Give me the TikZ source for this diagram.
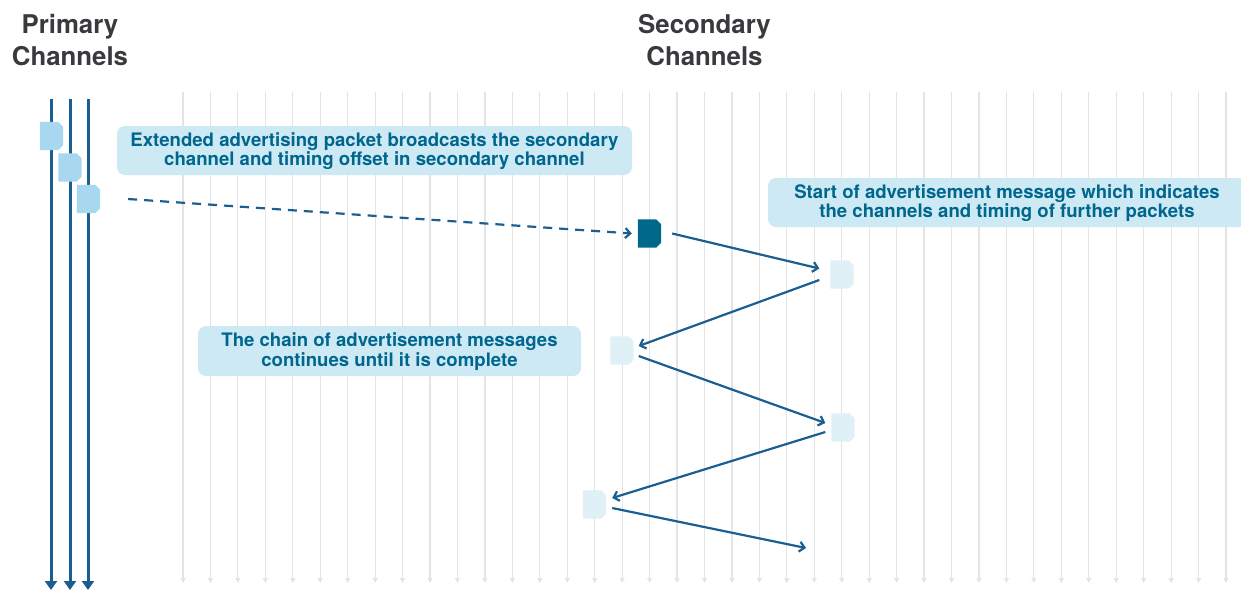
\documentclass[tikz,border=0pt]{standalone}
\usepackage{fontspec}
\setmainfont{TeX Gyre Heros}
\usetikzlibrary{arrows.meta}
\definecolor{gridgrey}{HTML}{E4E4E4}
\definecolor{linkblue}{HTML}{1B5E91}
\definecolor{textteal}{HTML}{00668E}
\definecolor{boxfill}{HTML}{CDEAF4}
\definecolor{pktprim}{HTML}{A8D8F0}
\definecolor{pktdark}{HTML}{006889}
\definecolor{pktfade}{HTML}{DFF0F6}
\definecolor{titlegrey}{HTML}{3A3A3E}
\tikzset{
  pktbox/.style={rectangle, minimum width=23pt, minimum height=28pt, inner sep=0pt, draw=none},
  note/.style={fill=boxfill, rounded corners=8pt, text=textteal, align=center,
    font=\fontsize{18.6}{19.8}\selectfont\bfseries, inner sep=0pt, text depth=3pt},
  title/.style={text=titlegrey, align=center, font=\fontsize{25.8}{32}\selectfont\bfseries},
  link/.style={draw=linkblue, line width=2.2pt, -{Straight Barb[length=5pt,width=10pt]}},
  gridline/.style={draw=gridgrey, line width=1.2pt, -{Triangle[width=5pt,length=5pt]}},
  primline/.style={draw=linkblue, line width=3pt, -{Triangle[width=12pt,length=9pt]}}
}
\newcommand{\packet}[3]{%
  \node[pktbox] (#1) at (#2) {};
  \fill[#3] (#1.north west) -- ([xshift=-5pt]#1.north east) -- ([yshift=-5pt]#1.north east)
    -- ([yshift=5pt]#1.south east) -- ([xshift=-5pt]#1.south east) -- (#1.south west) -- cycle;
}
\begin{document}
\begin{tikzpicture}[x=1pt,y=-1pt]
\useasboundingbox (0,0) rectangle (1241,590);
% grid of secondary channels
\foreach \i in {0,...,38}{
  \coordinate (gt\i) at (183+27.447*\i,92);
  \coordinate (gb\i) at (183+27.447*\i,583);
  \draw[gridline] (gt\i) -- (gb\i);
}
% primary channels
\foreach \n/\x in {1/51,2/70,3/88}{
  \coordinate (pt\n) at (\x,99);
  \coordinate (pb\n) at (\x,590);
  \draw[primline] (pt\n) -- (pb\n);
}
% titles
\node[title] (tprim) at (70,40) {Primary\\Channels};
\node[title] (tsec) at (704.5,40) {Secondary\\Channels};
% notes
\node[note, minimum width=515pt, minimum height=49pt] (n1) at (374.5,150.5)
  {Extended advertising packet broadcasts the secondary\\channel and timing offset in secondary channel};
\node[note, minimum width=478pt, minimum height=49pt] (n2) at (1007,202.5)
  {Start of advertisement message which indicates\\the channels and timing of further packets};
\node[note, minimum width=383pt, minimum height=50pt] (n3) at (389.5,351)
  {The chain of advertisement messages\\continues until it is complete};
% packets
\packet{pa}{51.5,136}{pktprim}
\packet{pb}{70,167.5}{pktprim}
\packet{pc}{88.5,199}{pktprim}
\packet{dk}{649.5,233.5}{pktdark}
\packet{q1}{842,274.5}{pktfade}
\packet{q2}{622,350.5}{pktfade}
\packet{q3}{843,427.5}{pktfade}
\packet{q4}{594.5,504.5}{pktfade}
\coordinate (endpt) at (806,548);
% connectors
\draw[link, dash pattern=on 9pt off 7pt] ([xshift=28pt]pc.east) -- ([xshift=-6pt]dk.west);
\draw[link] ([xshift=11pt]dk.east) -- ([xshift=-11pt,yshift=6pt]q1.west);
\draw[link] ([xshift=-11pt,yshift=-5.5pt]q1.west) -- ([xshift=5pt,yshift=4.5pt]q2.east);
\draw[link] ([xshift=5pt,yshift=-5.5pt]q2.east) -- ([xshift=-6pt,yshift=4.5pt]q3.west);
\draw[link] ([xshift=-6pt,yshift=-4.5pt]q3.west) -- ([xshift=6pt,yshift=6.5pt]q4.east);
\draw[link] ([xshift=6pt,yshift=-3.5pt]q4.east) -- (endpt);
\end{tikzpicture}
\end{document}
